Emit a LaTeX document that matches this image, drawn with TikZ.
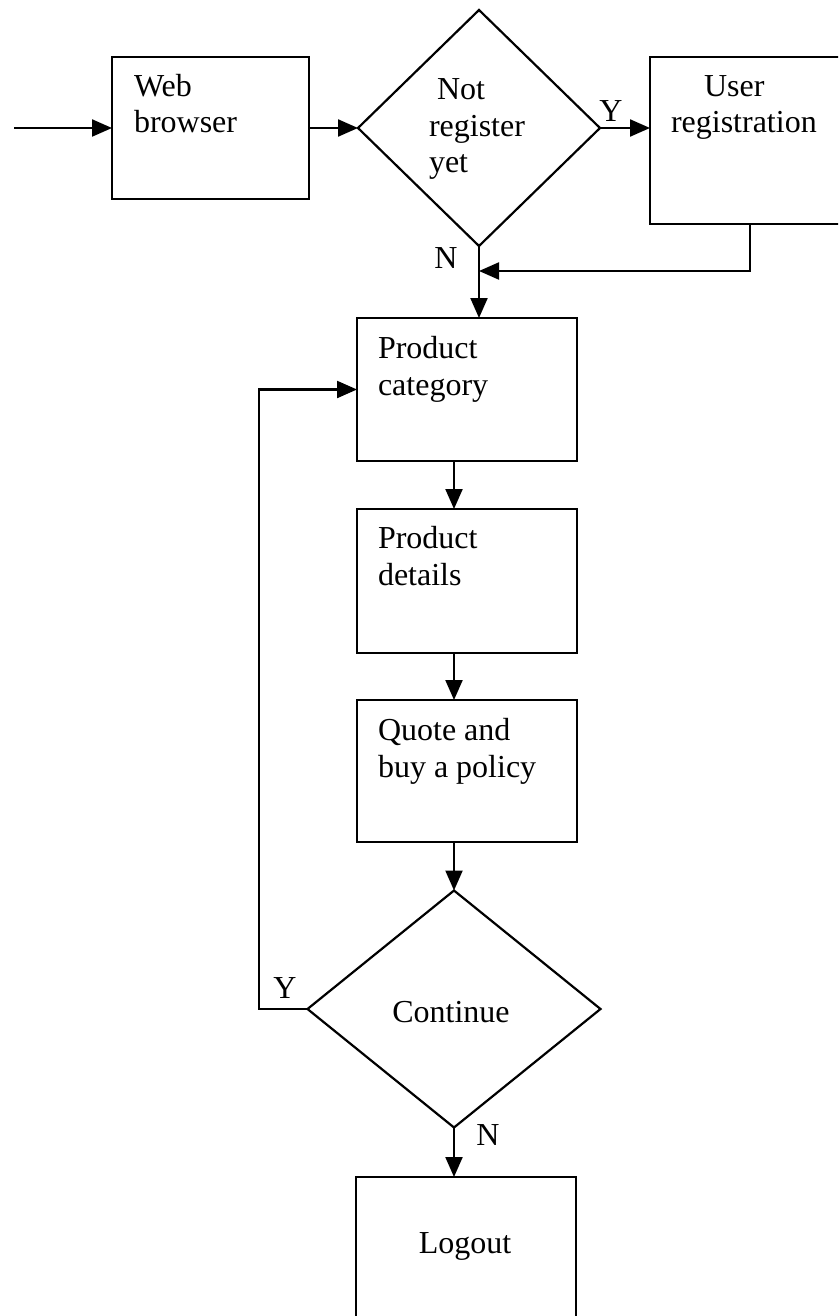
\documentclass[tikz,border=0pt]{standalone}
\usepackage{fontspec}
\setmainfont{Liberation Serif}
\usetikzlibrary{arrows.meta,shapes.geometric,calc}
\begin{document}
\begin{tikzpicture}[x=1pt,y=-1pt,
  every node/.style={font=\fontsize{32}{36.5}\selectfont, inner sep=0pt, outer sep=0pt},
  box/.style={draw, line width=2.2pt, rectangle},
  decision/.style={draw, diamond, line width=2.2pt},
  flow/.style={line width=2.2pt, -{Triangle[length=20pt,width=17pt]}},
  txt/.style={align=left, anchor=base west},
  yn/.style={anchor=base}]
\fill[white] (0,0) rectangle (838,1316);
\useasboundingbox (0,0) rectangle (838,1316);
\clip (0,0) rectangle (838,1316);

% process boxes
\node[box, minimum width=197pt, minimum height=142pt] (wb) at (210.5,128) {};
\node[box, minimum width=200pt, minimum height=167pt] (ur) at (750,140.5) {};
\node[box, minimum width=220pt, minimum height=143pt] (pc) at (467,389.5) {};
\node[box, minimum width=220pt, minimum height=144pt] (pd) at (467,581) {};
\node[box, minimum width=220pt, minimum height=142pt] (qb) at (467,771) {};
\node[box, minimum width=220pt, minimum height=150pt] (lo) at (466,1252) {};

% decisions
\node[decision, minimum width=242pt, minimum height=236pt] (d1) at (479,128) {};
\node[decision, minimum width=293pt, minimum height=237pt] (d2) at (454,1009) {};

% box texts (anchored at the baseline of the last line)
\node[txt] (twb) at (134,133) {Web\\browser};
\node[txt] (tur) at (671,133) {\hspace{33pt}User\\registration};
\node[txt] (td1) at (429,173) {\hspace{8pt}Not\\register\\yet};
\node[txt] (tpc) at (378,395) {Product\\category};
\node[txt] (tpd) at (378,585) {Product\\details};
\node[txt] (tqb) at (378,777) {Quote and\\buy a policy};
\node[anchor=base] (td2) at (451,1022) {Continue};
\node[anchor=base] (tlo) at (465,1253) {Logout};

% branch labels
\node[yn] (y1) at (611,122) {Y};
\node[yn] (n1) at (446,268) {N};
\node[yn] (y2) at (285,998) {Y};
\node[yn] (n2) at (488,1145) {N};

% connectors
\coordinate (start) at (14,128);
\coordinate (merge) at ($(d1.south)+(0,25)$);
\coordinate (loop) at (259,1009);
\draw[flow] (start) -- (wb.west);
\draw[flow] (wb.east) -- (d1.west);
\draw[flow] (d1.east) -- (d1.east -| ur.west);
\draw[flow] (ur.south) |- (merge);
\draw[flow] (d1.south) -- (d1.south |- pc.north);
\draw[flow] (pc.south -| d2.north) -- (pd.north -| d2.north);
\draw[flow] (pd.south -| d2.north) -- (qb.north -| d2.north);
\draw[flow] (qb.south -| d2.north) -- (d2.north);
\draw[flow] (d2.west) -- (loop) |- (pc.west);
\draw[flow] (d2.south) -- (d2.south |- lo.north);
\end{tikzpicture}
\end{document}
